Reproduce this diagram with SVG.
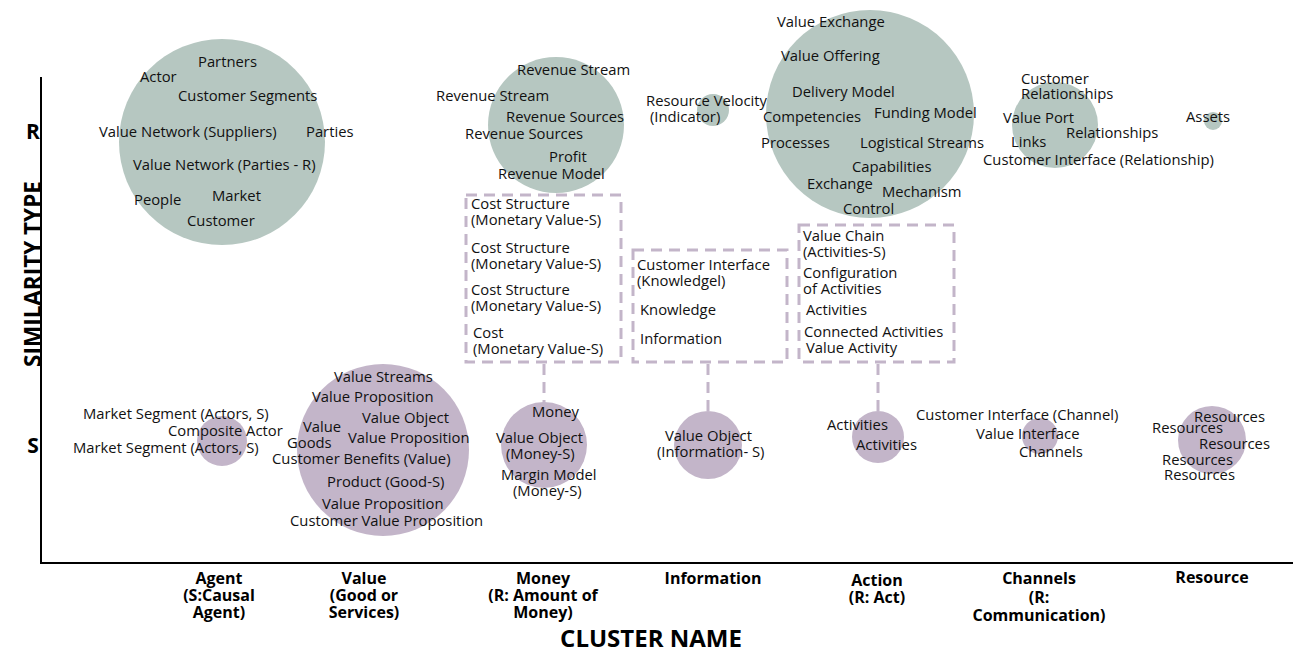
<svg xmlns="http://www.w3.org/2000/svg" width="1293" height="653" viewBox="0 0 1293 653">
<style>
.t{font-family:"Open Sans","Noto Sans",sans-serif;font-size:14.8px;fill:#111}
.g{fill:#b6c7c1}
.p{fill:#c3b5c9}
.box{fill:none;stroke:#c3b5c9;stroke-width:3;stroke-dasharray:11 7}
.ax{font-family:"Open Sans","Noto Sans",sans-serif;font-weight:bold;fill:#000}
.cl{font-family:"Open Sans","Noto Sans",sans-serif;font-weight:bold;font-size:16px;fill:#000;text-anchor:middle}
</style>
<rect width="1293" height="653" fill="#fff"/>
<g id="axes">
<polyline points="41,77 41,563 1293,563" fill="none" stroke="#000" stroke-width="2"/>
<text class="ax" x="33" y="139" font-size="21" text-anchor="middle">R</text>
<text class="ax" x="33" y="453" font-size="21" text-anchor="middle">S</text>
<text class="ax" font-size="22.5" text-anchor="middle" transform="translate(41,274) rotate(-90)">SIMILARITY TYPE</text>
<text class="cl" x="219" y="584">Agent</text>
<text class="cl" x="219" y="601">(S:Causal</text>
<text class="cl" x="219" y="618">Agent)</text>
<text class="cl" x="364" y="584">Value</text>
<text class="cl" x="364" y="601">(Good or</text>
<text class="cl" x="364" y="618">Services)</text>
<text class="cl" x="543" y="584">Money</text>
<text class="cl" x="543" y="601">(R: Amount of</text>
<text class="cl" x="543" y="618">Money)</text>
<text class="cl" x="713" y="584">Information</text>
<text class="cl" x="877" y="586">Action</text>
<text class="cl" x="877" y="603">(R: Act)</text>
<text class="cl" x="1039" y="584">Channels</text>
<text class="cl" x="1039" y="603">(R:</text>
<text class="cl" x="1039" y="621">Communication)</text>
<text class="cl" x="1212" y="583">Resource</text>
<text class="ax" x="651" y="647" font-size="24" text-anchor="middle">CLUSTER NAME</text>
</g>
<g id="connectors">
<line x1="544" y1="364" x2="544" y2="403" class="box"/>
<line x1="708" y1="364" x2="708" y2="412" class="box"/>
<line x1="878" y1="364" x2="878" y2="411" class="box"/>
</g>
<g id="agent-r">
<circle class="g" cx="222" cy="142" r="103"/>
<text class="t" x="198" y="67">Partners</text>
<text class="t" x="140" y="82">Actor</text>
<text class="t" x="178" y="101">Customer Segments</text>
<text class="t" x="99" y="137">Value Network (Suppliers)</text>
<text class="t" x="306" y="137">Parties</text>
<text class="t" x="133" y="170">Value Network (Parties - R)</text>
<text class="t" x="134" y="205">People</text>
<text class="t" x="212" y="201">Market</text>
<text class="t" x="187" y="226">Customer</text>
</g>
<g id="money-r">
<circle class="g" cx="556" cy="125" r="68"/>
<text class="t" x="517" y="75">Revenue Stream</text>
<text class="t" x="436" y="101">Revenue Stream</text>
<text class="t" x="506" y="122">Revenue Sources</text>
<text class="t" x="465" y="139">Revenue Sources</text>
<text class="t" x="549" y="162">Profit</text>
<text class="t" x="498" y="179">Revenue Model</text>
</g>
<g id="information-r">
<circle class="g" cx="713" cy="110" r="16"/>
<text class="t" x="646" y="106">Resource Velocity</text>
<text class="t" x="650" y="122">(Indicator)</text>
</g>
<g id="action-r">
<circle class="g" cx="870" cy="114" r="104"/>
<text class="t" x="777" y="27">Value Exchange</text>
<text class="t" x="781" y="61">Value Offering</text>
<text class="t" x="792" y="97">Delivery Model</text>
<text class="t" x="763" y="122">Competencies</text>
<text class="t" x="874" y="118">Funding Model</text>
<text class="t" x="761" y="148">Processes</text>
<text class="t" x="860" y="148">Logistical Streams</text>
<text class="t" x="852" y="172">Capabilities</text>
<text class="t" x="807" y="189">Exchange</text>
<text class="t" x="882" y="197">Mechanism</text>
<text class="t" x="843" y="214">Control</text>
</g>
<g id="channels-r">
<circle class="g" cx="1055" cy="125" r="43"/>
<text class="t" x="1021" y="84">Customer</text>
<text class="t" x="1021" y="99">Relationships</text>
<text class="t" x="1003" y="123">Value Port</text>
<text class="t" x="1066" y="138">Relationships</text>
<text class="t" x="1011" y="147">Links</text>
<text class="t" x="983" y="165">Customer Interface (Relationship)</text>
</g>
<g id="resource-r">
<circle class="g" cx="1213" cy="121" r="9"/>
<text class="t" x="1186" y="122">Assets</text>
</g>
<g id="money-box">
<rect class="box" x="466" y="195" width="155" height="167"/>
<text class="t" x="471" y="209">Cost Structure</text>
<text class="t" x="471" y="225">(Monetary Value-S)</text>
<text class="t" x="471" y="253">Cost Structure</text>
<text class="t" x="471" y="269">(Monetary Value-S)</text>
<text class="t" x="471" y="295">Cost Structure</text>
<text class="t" x="471" y="311">(Monetary Value-S)</text>
<text class="t" x="473" y="338">Cost</text>
<text class="t" x="473" y="354">(Monetary Value-S)</text>
</g>
<g id="information-box">
<rect class="box" x="633" y="250" width="154" height="112"/>
<text class="t" x="637" y="270">Customer Interface</text>
<text class="t" x="637" y="286">(Knowledgel)</text>
<text class="t" x="640" y="315">Knowledge</text>
<text class="t" x="640" y="344">Information</text>
</g>
<g id="action-box">
<rect class="box" x="799" y="225" width="155" height="137"/>
<text class="t" x="803" y="241">Value Chain</text>
<text class="t" x="803" y="257">(Activities-S)</text>
<text class="t" x="803" y="278">Configuration</text>
<text class="t" x="803" y="294">of Activities</text>
<text class="t" x="806" y="315">Activities</text>
<text class="t" x="804" y="337">Connected Activities</text>
<text class="t" x="806" y="353">Value Activity</text>
</g>
<g id="agent-s">
<circle class="p" cx="222" cy="441" r="25"/>
<text class="t" x="83" y="419">Market Segment (Actors, S)</text>
<text class="t" x="168" y="436">Composite Actor</text>
<text class="t" x="73" y="453">Market Segment (Actors, S)</text>
</g>
<g id="value-s">
<circle class="p" cx="383" cy="450" r="86"/>
<text class="t" x="334" y="382">Value Streams</text>
<text class="t" x="312" y="402">Value Proposition</text>
<text class="t" x="362" y="423">Value Object</text>
<text class="t" x="303" y="432">Value</text>
<text class="t" x="348" y="443">Value Proposition</text>
<text class="t" x="287" y="448">Goods</text>
<text class="t" x="272" y="464">Customer Benefits (Value)</text>
<text class="t" x="327" y="487">Product (Good-S)</text>
<text class="t" x="322" y="509">Value Proposition</text>
<text class="t" x="290" y="526">Customer Value Proposition</text>
</g>
<g id="money-s">
<circle class="p" cx="544" cy="445" r="43"/>
<text class="t" x="532" y="417">Money</text>
<text class="t" x="496" y="443">Value Object</text>
<text class="t" x="506" y="459">(Money-S)</text>
<text class="t" x="501" y="480">Margin Model</text>
<text class="t" x="513" y="496">(Money-S)</text>
</g>
<g id="information-s">
<circle class="p" cx="708" cy="445" r="34"/>
<text class="t" x="665" y="441">Value Object</text>
<text class="t" x="657" y="457">(Information- S)</text>
</g>
<g id="action-s">
<circle class="p" cx="878" cy="437" r="26"/>
<text class="t" x="827" y="430">Activities</text>
<text class="t" x="856" y="450">Activities</text>
</g>
<g id="channels-s">
<circle class="p" cx="1040" cy="436" r="18"/>
<text class="t" x="916" y="420">Customer Interface (Channel)</text>
<text class="t" x="976" y="439">Value Interface</text>
<text class="t" x="1019" y="457">Channels</text>
</g>
<g id="resource-s">
<circle class="p" cx="1212" cy="440" r="34"/>
<text class="t" x="1194" y="422">Resources</text>
<text class="t" x="1152" y="433">Resources</text>
<text class="t" x="1199" y="449">Resources</text>
<text class="t" x="1162" y="465">Resources</text>
<text class="t" x="1164" y="480">Resources</text>
</g>
</svg>
